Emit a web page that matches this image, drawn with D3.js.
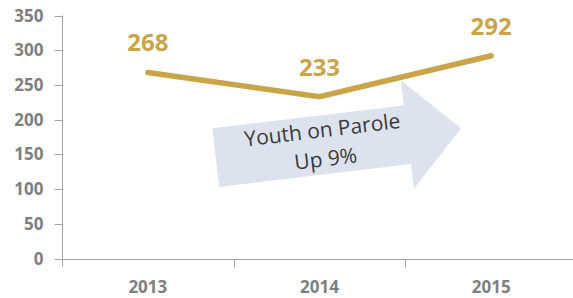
<!DOCTYPE html>
<html>
<head>
<meta charset="utf-8">
<script src="https://cdn.jsdelivr.net/npm/d3@7"></script>
<style>
  html, body { margin: 0; padding: 0; background: #fff; }
  svg { display: block; }
</style>
</head>
<body>
<svg id="chart" width="573" height="298"></svg>
<script>
const years = ["2013", "2014", "2015"];
const youthOnParole = [268, 233, 292];
const yTicks = [0, 50, 100, 150, 200, 250, 300, 350];
const arrowLines = ["Youth on Parole", "Up 9%"];

const svg = d3.select("#chart");
const axisColor = "#a6a6a6";
const gold = "#c9a449";

const x = d3.scaleBand().domain(years).range([62, 577]).padding(0);
const y = d3.scaleLinear().domain([0, 350]).range([258.5, 15.5]);

// Y axis
const yAxis = svg.append("g").attr("transform", "translate(62.5,0)");
yAxis.append("line").attr("x1", 0).attr("x2", 0)
  .attr("y1", y(350)).attr("y2", y(0) + 8).attr("stroke", axisColor);
yAxis.selectAll(".tk").data(yTicks).enter().append("line")
  .attr("x1", -8).attr("x2", 0)
  .attr("y1", d => Math.round(y(d)) + 0.5).attr("y2", d => Math.round(y(d)) + 0.5)
  .attr("stroke", axisColor);
yAxis.selectAll(".lb").data(yTicks).enter().append("text")
  .attr("x", -19).attr("y", d => y(d))
  .attr("dy", "0.36em")
  .attr("text-anchor", "end")
  .attr("font-family", "'Open Sans', sans-serif")
  .attr("font-weight", "bold").attr("font-size", 17)
  .attr("fill", "#7f7f7f")
  .text(d => d);

// X axis
const xAxis = svg.append("g").attr("transform", `translate(0,${Math.round(y(0)) + 0.5})`);
xAxis.append("line").attr("x1", 62).attr("x2", 577).attr("y1", 0).attr("y2", 0)
  .attr("stroke", axisColor);
const bounds = years.map(d => x(d)).concat([x(years[years.length - 1]) + x.bandwidth()]);
xAxis.selectAll(".tk").data(bounds.slice(1)).enter().append("line")
  .attr("x1", d => Math.round(d) + 0.5).attr("x2", d => Math.round(d) + 0.5)
  .attr("y1", 0).attr("y2", 8).attr("stroke", axisColor);
xAxis.selectAll(".lb").data(years).enter().append("text")
  .attr("x", d => x(d) + x.bandwidth() / 2).attr("y", 33)
  .attr("text-anchor", "middle")
  .attr("font-family", "'Open Sans', sans-serif")
  .attr("font-weight", "bold").attr("font-size", 17)
  .attr("fill", "#7f7f7f")
  .text(d => d);

// Arrow annotation
const arrow = svg.append("g").attr("transform", "translate(212.3,128.3) rotate(-6.8)");
arrow.append("path")
  .attr("d", "M0,0 L193,0 L193,-25 L247,29.5 L193,84 L193,59 L0,59 Z")
  .attr("fill", "#dce3ee");
arrow.selectAll("text").data(arrowLines).enter().append("text")
  .attr("x", 109).attr("y", (d, i) => 22 + i * 29)
  .attr("text-anchor", "middle")
  .attr("font-family", "'Open Sans', sans-serif")
  .attr("font-size", 21)
  .attr("fill", "#3a3a3a")
  .text(d => d);

// Line
const pts = years.map((d, i) => [x(d) + x.bandwidth() / 2, y(youthOnParole[i])]);
svg.append("path")
  .attr("d", d3.line()(pts))
  .attr("fill", "none")
  .attr("stroke", gold)
  .attr("stroke-width", 5.5)
  .attr("stroke-linecap", "round")
  .attr("stroke-linejoin", "miter");

// Data labels
svg.selectAll(".dl").data(years).enter().append("text")
  .attr("x", (d, i) => pts[i][0])
  .attr("y", (d, i) => pts[i][1] - 21)
  .attr("text-anchor", "middle")
  .attr("font-family", "'Open Sans', sans-serif")
  .attr("font-weight", "bold").attr("font-size", 24)
  .attr("fill", gold)
  .text((d, i) => youthOnParole[i]);
</script>
</body>
</html>
